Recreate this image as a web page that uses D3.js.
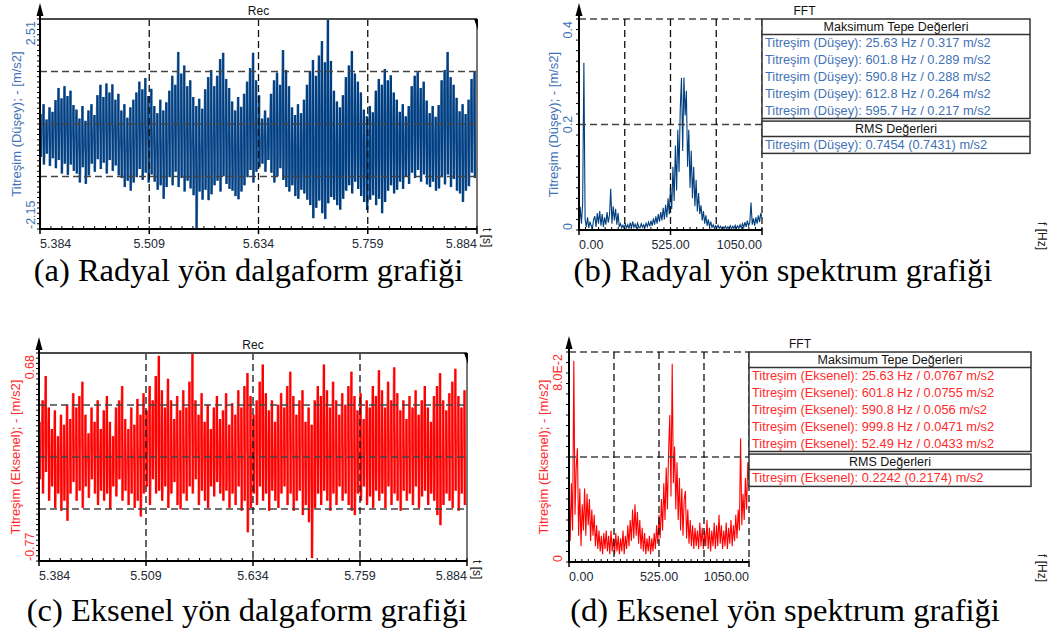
<!DOCTYPE html>
<html lang="tr">
<head>
<meta charset="UTF-8">
<title>Titreşim grafikleri</title>
<script src="https://d3js.org/d3.v7.min.js"></script>
<style>
  body { margin: 0; background: #fff; }
  svg { display: block; }
</style>
</head>
<body>
<div id="chart"></div>
<script>
// ---- data ----
const timeTicks = [5.384, 5.509, 5.634, 5.759, 5.884];
const freqTicks = [0, 525, 1050];
const fftBinHz = 7;

// radial (Düşey) waveform, upper / lower excursion per short time slot [m/s2]
const radialHi = [0.40,0.62,0.28,0.55,0.45, 0.71,0.98,0.75,1.02,0.80,0.92,0.60,
  0.50,0.30,0.58,0.25,0.48,0.62,0.38, 0.82,1.05,0.78,1.08,0.88,1.06,0.72,0.85,
  0.48,0.62,0.32,0.55,0.72, 0.88,1.12,0.95,1.20,0.80,0.96, 0.58,0.42,0.72,0.48,0.66,
  0.92,1.25,1.05,1.78,1.30,1.48,1.02,1.15,0.78, 0.58,0.74,0.52,
  0.95,1.22,1.38,1.02,1.25,1.62,1.76,1.18,0.98, 0.68,0.48,0.78,0.56,0.85,
  1.12,1.42,1.76,1.15,0.82, 0.30,0.48,0.32, 0.85,1.15,1.32,1.05,1.82,1.38,1.02,
  0.55,0.38,0.62,0.42,0.72, 1.05,1.35,1.60,1.25,1.70,2.02,1.55,2.51,1.58,
  0.92,0.68,0.55,0.82, 1.22,1.48,1.80,1.30,1.12,0.88, 0.50,0.35,0.58,0.44,
  0.92,1.18,1.05,1.40,1.15,1.26,0.88,0.72, 0.45,0.62,0.35,0.58,
  1.02,1.25,1.33,0.98,1.12,0.70, 0.42,0.58,0.34,0.60, 1.15,1.38,1.78,1.22,1.05,0.76,
  0.46,0.62,0.40,0.72, 1.18,1.34];
const radialLo = [-0.55,-0.72,-0.48,-0.75,-0.58, -0.80,-0.62,-0.92,-0.70,-0.95,-0.72,-0.86,
  -0.92,-1.12,-0.78,-1.15,-0.96,-0.70,-0.88, -0.60,-0.82,-0.68,-0.92,-0.62,-0.86,-0.74,-0.96,
  -1.02,-1.22,-1.08,-1.30,-1.12, -1.00,-0.82,-1.06,-0.90,-1.12,-0.94, -1.10,-1.28,-1.18,-1.48,-1.22,
  -1.00,-1.18,-0.88,-1.22,-1.02,-1.32,-1.08,-1.25,-1.40, -2.15,-1.32,-1.50,
  -1.28,-1.51,-1.38,-1.18,-1.08,-1.32,-0.98,-1.15,-1.26, -1.30,-1.42,-1.49,-1.32,-1.18,
  -1.00,-0.84,-1.12,-0.88,-0.78, -0.70,-0.88,-0.62, -0.90,-1.12,-0.98,-0.80,-1.06,-1.22,-1.32,
  -1.18,-1.42,-1.48,-1.28,-1.36, -1.50,-1.62,-1.91,-1.68,-1.52,-1.80,-1.93,-1.58,-1.44,
  -1.50,-1.62,-1.72,-1.48, -1.30,-1.18,-1.36,-1.10,-1.26,-1.42, -1.55,-1.73,-1.50,-1.40,
  -1.62,-1.48,-1.80,-1.55,-1.30,-1.18,-1.36,-1.28, -1.10,-1.26,-0.98,-1.15,
  -0.90,-1.02,-0.84,-1.10,-0.94,-1.16, -1.22,-1.10,-1.30,-1.25, -1.00,-1.16,-0.94,-1.22,-1.04,-1.30,
  -1.36,-1.55,-1.30,-1.20, -0.90,-1.02];

// axial (Eksenel) waveform [m/s2]
const axialHi = [0.20,0.35,0.52,0.30,0.15,0.28,0.10,0.25,0.18,0.32,
  0.22,0.40,0.30,0.38,0.48,0.25,0.12,0.30,0.20,0.35,
  0.15,0.28,0.38,0.20,0.10,0.30,0.35,0.45,0.22,0.15,
  0.30,0.18,0.36,0.25,0.40,0.28,0.45,0.35,0.52,0.66,
  0.42,0.30,0.50,0.35,0.22,0.38,0.28,0.42,0.30,0.48,
  0.68,0.35,0.25,0.40,0.20,0.32,0.15,0.30,0.38,0.22,
  0.28,0.40,0.18,0.33,0.25,0.42,0.30,0.45,0.54,0.38,
  0.25,0.35,0.48,0.60,0.40,0.28,0.35,0.20,0.32,0.40,
  0.30,0.45,0.55,0.38,0.25,0.35,0.42,0.20,0.30,0.18,
  0.35,0.45,0.38,0.60,0.42,0.30,0.48,0.35,0.25,0.40,
  0.32,0.45,0.55,0.38,0.28,0.40,0.22,0.35,0.30,0.45,
  0.38,0.56,0.42,0.30,0.48,0.35,0.58,0.40,0.28,0.35,
  0.22,0.38,0.30,0.42,0.25,0.35,0.45,0.30,0.20,0.38,
  0.45,0.54,0.35,0.28,0.40,0.48,0.57,0.38,0.30,0.42];
const axialLo = [-0.20,-0.30,-0.15,-0.35,-0.25,-0.40,-0.30,-0.42,-0.35,-0.49,
  -0.30,-0.22,-0.35,-0.28,-0.40,-0.25,-0.33,-0.20,-0.30,-0.38,
  -0.28,-0.35,-0.30,-0.41,-0.25,-0.32,-0.20,-0.35,-0.28,-0.38,
  -0.30,-0.40,-0.35,-0.46,-0.30,-0.25,-0.38,-0.20,-0.30,-0.28,
  -0.35,-0.25,-0.40,-0.30,-0.22,-0.38,-0.41,-0.30,-0.35,-0.25,
  -0.30,-0.20,-0.38,-0.28,-0.35,-0.40,-0.25,-0.32,-0.22,-0.30,
  -0.35,-0.28,-0.40,-0.30,-0.38,-0.25,-0.42,-0.35,-0.57,-0.40,
  -0.30,-0.38,-0.25,-0.35,-0.30,-0.42,-0.28,-0.35,-0.40,-0.30,
  -0.25,-0.38,-0.30,-0.42,-0.35,-0.28,-0.45,-0.38,-0.50,-0.75,
  -0.40,-0.30,-0.38,-0.28,-0.35,-0.42,-0.30,-0.38,-0.25,-0.35,
  -0.30,-0.38,-0.42,-0.45,-0.30,-0.35,-0.25,-0.38,-0.32,-0.40,
  -0.28,-0.35,-0.30,-0.40,-0.25,-0.38,-0.30,-0.35,-0.42,-0.28,
  -0.35,-0.30,-0.38,-0.25,-0.40,-0.32,-0.28,-0.38,-0.30,-0.35,
  -0.45,-0.52,-0.38,-0.30,-0.35,-0.40,-0.28,-0.42,-0.30,-0.38];

// FFT amplitude per 7 Hz bin, 0 .. 1050 Hz [m/s2]
const radialSpectrum = [
  0.000,0.044,0.012,0.050,0.317,0.020,0.006,0.024,0.004,0.016,
  0.008,0.003,0.020,0.026,0.006,0.032,0.012,0.036,0.008,0.030,
  0.006,0.024,0.010,0.034,0.014,0.028,0.078,0.012,0.045,0.018,
  0.040,0.010,0.032,0.006,0.012,0.004,0.009,0.003,0.011,0.004,
  0.010,0.003,0.014,0.004,0.016,0.005,0.011,0.003,0.013,0.006,
  0.004,0.012,0.005,0.010,0.004,0.013,0.006,0.015,0.007,0.018,
  0.008,0.022,0.010,0.026,0.012,0.030,0.016,0.034,0.018,0.042,
  0.020,0.048,0.024,0.060,0.030,0.082,0.040,0.120,0.055,0.160,
  0.075,0.190,0.110,0.230,0.288,0.150,0.289,0.217,0.264,0.120,
  0.190,0.080,0.150,0.060,0.120,0.045,0.095,0.035,0.070,0.030,
  0.047,0.018,0.036,0.012,0.028,0.008,0.020,0.006,0.016,0.005,
  0.010,0.003,0.008,0.004,0.009,0.003,0.007,0.002,0.006,0.003,
  0.007,0.002,0.006,0.003,0.008,0.002,0.007,0.003,0.009,0.003,
  0.008,0.003,0.010,0.004,0.012,0.005,0.015,0.006,0.018,0.008,
  0.014,0.052,0.010,0.022,0.008,0.024,0.012,0.028,0.015,0.032,
  0.024];
const axialSpectrum = [
  0.034,0.008,0.030,0.012,0.0767,0.018,0.036,0.0433,0.010,0.028,
  0.006,0.022,0.012,0.028,0.010,0.026,0.014,0.024,0.008,0.020,
  0.010,0.018,0.006,0.014,0.005,0.012,0.004,0.010,0.003,0.011,
  0.005,0.012,0.004,0.010,0.003,0.012,0.004,0.009,0.003,0.011,
  0.004,0.010,0.003,0.009,0.004,0.012,0.003,0.010,0.005,0.014,
  0.006,0.016,0.008,0.020,0.009,0.022,0.010,0.019,0.007,0.016,
  0.005,0.013,0.004,0.011,0.003,0.009,0.004,0.010,0.003,0.009,
  0.004,0.011,0.005,0.014,0.007,0.018,0.009,0.024,0.012,0.030,
  0.016,0.036,0.020,0.042,0.056,0.025,0.0755,0.030,0.044,0.020,
  0.038,0.016,0.032,0.012,0.028,0.010,0.024,0.027,0.009,0.020,
  0.007,0.016,0.006,0.014,0.005,0.013,0.006,0.012,0.005,0.015,
  0.006,0.013,0.005,0.012,0.006,0.016,0.005,0.013,0.004,0.012,
  0.006,0.015,0.005,0.014,0.006,0.018,0.007,0.014,0.005,0.012,
  0.006,0.015,0.005,0.013,0.007,0.016,0.006,0.014,0.008,0.018,
  0.009,0.020,0.012,0.0471,0.014,0.026,0.016,0.032,0.020,0.038,
  0.032];

// peak tables
const radialPeakHz = [25.63, 601.8, 590.8, 612.8, 595.7];
const radialPeakVal = [0.317, 0.289, 0.288, 0.264, 0.217];
const radialRms = [0.7454, 0.7431];
const axialPeakHz = [25.63, 601.8, 590.8, 999.8, 52.49];
const axialPeakVal = [0.0767, 0.0755, 0.056, 0.0471, 0.0433];
const axialRms = [0.2242, 0.2174];

const captions = ["(a) Radyal yön dalgaform grafiği", "(b) Radyal yön spektrum grafiği",
                  "(c) Eksenel yön dalgaform grafiği", "(d) Eksenel yön spektrum grafiği"];

// ---- drawing ----
const W = 1059, H = 641;
const SANS = '"Liberation Sans", Arial, sans-serif';
const BLUE = "#003e7e", BLUE_LT = "#3d6fae", BLUE_TXT = "#3f72b6";
const RED = "#ff0000", RED_LT = "#ff5050", RED_TXT = "#ff2b2b";

const svg = d3.select("#chart").append("svg").attr("width", W).attr("height", H);
const defs = svg.append("defs");
let clipN = 0;

function vText(g, x, y, txt, anchor, color, size, angle) {
  return g.append("text")
    .attr("transform", `translate(${x},${y}) rotate(${angle})`)
    .attr("text-anchor", anchor)
    .attr("font-family", SANS).attr("font-size", size)
    .attr("fill", color).text(txt);
}

// axes, arrow and ticks shared by all four panels
function drawAxes(g, box, x, xTicks, xFmt, xMinor, y, yMinor) {
  g.append("g").selectAll("line").data(xMinor).join("line")
    .attr("x1", d => x(d)).attr("x2", d => x(d))
    .attr("y1", box.b).attr("y2", box.b - 3)
    .attr("stroke", "#000").attr("stroke-width", 1);
  g.append("g").selectAll("line").data(xTicks).join("line")
    .attr("x1", d => x(d)).attr("x2", d => x(d))
    .attr("y1", box.b).attr("y2", box.b + 5)
    .attr("stroke", "#000").attr("stroke-width", 1.5);
  g.append("g").selectAll("text").data(xTicks).join("text")
    .attr("x", d => x(d)).attr("y", box.b + 18.5)
    .attr("text-anchor", (d, i) => i === 0 ? "start" : (i === xTicks.length - 1 ? "end" : "middle"))
    .attr("font-family", SANS).attr("font-size", 12.5).attr("fill", "#222a35")
    .text(xFmt);
  g.append("g").selectAll("line").data(yMinor).join("line")
    .attr("x1", box.l - 3).attr("x2", box.l)
    .attr("y1", d => y(d)).attr("y2", d => y(d))
    .attr("stroke", "#000").attr("stroke-width", 1);
  g.append("line").attr("x1", box.l - 1).attr("x2", box.r).attr("y1", box.b).attr("y2", box.b)
    .attr("stroke", "#000").attr("stroke-width", 2);
  g.append("line").attr("x1", box.l).attr("x2", box.l).attr("y1", box.b + 1).attr("y2", box.t - 12)
    .attr("stroke", "#000").attr("stroke-width", 2);
  g.append("path")
    .attr("d", `M${box.l - 3.5},${box.t - 3}L${box.l},${box.t - 16}L${box.l + 3.5},${box.t - 3}Z`)
    .attr("fill", "#000");
}

function hDash(g, x1, x2, yy) {
  g.append("line").attr("x1", x1).attr("x2", x2).attr("y1", yy).attr("y2", yy)
    .attr("stroke", "#444").attr("stroke-width", 1.5).attr("stroke-dasharray", "7,4");
}
function vDash(g, xx, y1, y2) {
  g.append("line").attr("x1", xx).attr("x2", xx).attr("y1", y1).attr("y2", y2)
    .attr("stroke", "#111").attr("stroke-width", 1.3).attr("stroke-dasharray", "7,4");
}

function clipFor(box) {
  const id = "clip" + (clipN++);
  defs.append("clipPath").attr("id", id).append("rect")
    .attr("x", box.l).attr("y", box.t - 1).attr("width", box.r - box.l).attr("height", box.b - box.t + 2);
  return `url(#${id})`;
}

function drawWave(box, hi, lo, yDomain, color, light, txtColor, axisTitle, yLabels) {
  const g = svg.append("g");
  const x = d3.scaleLinear().domain([timeTicks[0], timeTicks[timeTicks.length - 1]]).range([box.l, box.r]);
  const y = d3.scaleLinear().domain(yDomain).range([box.b, box.t]);
  const n = Math.min(hi.length, lo.length);
  const dt = (x.domain()[1] - x.domain()[0]) / n;
  const cols = d3.range(n).map(i => ({t: x.domain()[0] + (i + 0.25) * dt, hi: hi[i], lo: lo[i]}));
  const pts = [];
  cols.forEach(c => { pts.push([c.t - 0.25 * dt, c.hi]); pts.push([c.t + 0.25 * dt, c.lo]); });
  const sig = g.append("g").attr("clip-path", clipFor(box));
  // light strokes between samples, dark min/max bars per slot
  sig.append("path").datum(pts)
    .attr("fill", "none").attr("stroke", light).attr("stroke-width", 1.4)
    .attr("d", d3.line().x(d => x(d[0])).y(d => y(d[1])));
  sig.selectAll("line").data(cols).join("line")
    .attr("x1", d => x(d.t)).attr("x2", d => x(d.t))
    .attr("y1", d => y(d.lo)).attr("y2", d => y(d.hi))
    .attr("stroke", color).attr("stroke-width", 2.1);

  const span = yDomain[1] - yDomain[0];
  [1, 2, 3].forEach(k => hDash(g, box.l, box.r, y(yDomain[0] + span * k / 4)));
  timeTicks.slice(1, -1).forEach(t => vDash(g, x(t), box.t, box.b));
  g.append("line").attr("x1", box.l).attr("x2", box.r).attr("y1", box.t).attr("y2", box.t)
    .attr("stroke", "#4a4a4a").attr("stroke-width", 2);
  g.append("line").attr("x1", box.r).attr("x2", box.r).attr("y1", box.t).attr("y2", box.b)
    .attr("stroke", "#4a4a4a").attr("stroke-width", 1.5);
  g.append("path").attr("d", `M${box.r - 3},${box.t}L${box.r + 1},${box.t}L${box.r + 1},${box.t + 11}Z`)
    .attr("fill", "#000");

  const xMinor = d3.range(0, 41).map(k => timeTicks[0] + k * 0.0125);
  const yMinor = d3.range(0, 41).map(k => yDomain[0] + span * k / 40);
  drawAxes(g, box, x, timeTicks, d3.format(".3f"), xMinor, y, yMinor);

  vText(g, box.l - 5, box.t + 2, yLabels[1], "end", txtColor, 12.5, -90);
  vText(g, box.l - 5, box.b, yLabels[0], "start", txtColor, 12.5, -90);
  vText(g, box.l - 19, (box.t + box.b) / 2, axisTitle, "middle", txtColor, 13, -90);

  g.append("text").attr("x", (box.l + box.r) / 2).attr("y", box.t - 4)
    .attr("text-anchor", "middle").attr("font-family", SANS).attr("font-size", 12).attr("fill", "#111")
    .text("Rec");
  vText(g, box.r + 6, box.b - 1, "t [s]", "start", "#222", 12, 90);
}

function drawFft(box, tableRight, spec, yMax, yLabels, color, txtColor, axisTitle, peakHz, peakVal, rms, name) {
  const g = svg.append("g");
  const x = d3.scaleLinear().domain([0, freqTicks[freqTicks.length - 1]]).range([box.l, box.r]);
  const y = d3.scaleLinear().domain([0, yMax]).range([box.b, box.t]);
  g.append("path").datum(spec)
    .attr("clip-path", clipFor(box))
    .attr("fill", "none").attr("stroke", color).attr("stroke-width", 1.1)
    .attr("d", d3.line().x((d, i) => x(i * fftBinHz)).y(d => y(d)));

  [0.5, 1].forEach(k => hDash(g, box.l, box.r, y(yMax * k)));
  [0.25, 0.5, 0.75, 1].forEach(k => vDash(g, x(x.domain()[1] * k), box.t, box.b));

  const xMinor = d3.range(0, 29).map(k => k * 37.5);
  const yMinor = d3.range(0, 21).map(k => yMax * k / 20);
  drawAxes(g, box, x, freqTicks, d3.format(".2f"), xMinor, y, yMinor);

  yLabels.forEach((lab, i) => {
    const v = yMax * i / (yLabels.length - 1);
    const anchor = i === 0 ? "start" : (i === yLabels.length - 1 ? "end" : "middle");
    vText(g, box.l - 7, i === yLabels.length - 1 ? box.t + 2 : y(v), lab, anchor, txtColor, 12.5, -90);
  });
  vText(g, box.l - 21, (box.t + box.b) / 2, axisTitle, "middle", txtColor, 13, -90);

  g.append("text").attr("x", (box.l + tableRight) / 2).attr("y", box.t - 4)
    .attr("text-anchor", "middle").attr("font-family", SANS).attr("font-size", 12).attr("fill", "#111")
    .text("FFT");
  vText(g, 1038, box.b - 8, "f [Hz]", "start", "#222", 12, 90);

  // peak / rms table
  const left = box.r, headH = 15.5, rowH = 16.8, gap = 2.6;
  const t = svg.append("g");
  const rect = (yy, h) => t.append("rect").attr("x", left).attr("y", yy).attr("width", tableRight - left)
    .attr("height", h).attr("fill", "#fff").attr("stroke", "#333").attr("stroke-width", 1.5);
  const hline = yy => t.append("line").attr("x1", left).attr("x2", tableRight).attr("y1", yy).attr("y2", yy)
    .attr("stroke", "#333").attr("stroke-width", 1.5);
  const txt = (xx, yy, s, anchor, fill, size) => t.append("text").attr("x", xx).attr("y", yy)
    .attr("text-anchor", anchor).attr("font-family", SANS).attr("font-size", size).attr("fill", fill).text(s);

  const top1 = box.t;
  rect(top1, headH + rowH * peakHz.length);
  hline(top1 + headH);
  txt((left + tableRight) / 2, top1 + headH - 3.3, "Maksimum Tepe Değerleri", "middle", "#111", 12.5);
  peakHz.forEach((hz, i) => {
    txt(left + 3, top1 + headH + rowH * (i + 1) - 4, `Titreşim (${name}): ${hz} Hz / ${peakVal[i]} m/s2`,
      "start", txtColor, 12.8);
  });
  const top2 = top1 + headH + rowH * peakHz.length + gap;
  rect(top2, headH + rowH);
  hline(top2 + headH);
  txt((left + tableRight) / 2, top2 + headH - 3.3, "RMS Değerleri", "middle", "#111", 12.5);
  txt(left + 3, top2 + headH + rowH - 4, `Titreşim (${name}): ${rms[0]} (${rms[1]}) m/s2`, "start", txtColor, 12.8);
}

drawWave({l: 40, r: 477, t: 19, b: 229}, radialHi, radialLo, [-2.15, 2.51], BLUE, BLUE_LT, BLUE_TXT,
  "Titreşim (Düşey); - [m/s2]", ["-2.15", "2.51"]);
drawFft({l: 579, r: 762, t: 19, b: 230}, 1030, radialSpectrum, 0.4, ["0", "0.2", "0.4"], BLUE, BLUE_TXT,
  "Titreşim (Düşey); - [m/s2]", radialPeakHz, radialPeakVal, radialRms, "Düşey");
drawWave({l: 39, r: 467, t: 353, b: 561}, axialHi, axialLo, [-0.77, 0.68], RED, RED_LT, RED_TXT,
  "Titreşim (Eksenel); - [m/s2]", ["-0.77", "0.68"]);
drawFft({l: 569, r: 749, t: 352, b: 562}, 1031, axialSpectrum, 0.08, ["0", "8.0E-2"], RED, RED_TXT,
  "Titreşim (Eksenel); - [m/s2]", axialPeakHz, axialPeakVal, axialRms, "Eksenel");

// figure captions
const capPos = [[248.5, 281], [783, 281], [247, 621], [785, 621]];
svg.append("g").selectAll("text").data(captions).join("text")
  .attr("x", (d, i) => capPos[i][0]).attr("y", (d, i) => capPos[i][1])
  .attr("text-anchor", "middle")
  .attr("font-family", '"Liberation Serif", "Times New Roman", serif')
  .attr("font-size", 32.5).attr("fill", "#000")
  .text(d => d);
</script>
</body>
</html>
